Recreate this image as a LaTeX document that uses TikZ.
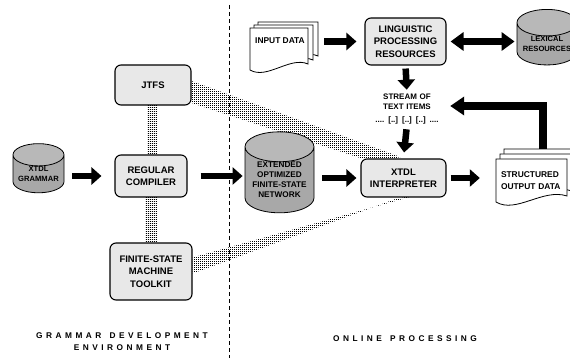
\documentclass[tikz,border=0pt]{standalone}
\usepackage{fontspec}
\setmainfont{Liberation Sans}
\usetikzlibrary{arrows.meta,shapes.geometric,patterns,calc,backgrounds}
\definecolor{boxgray}{HTML}{E8E8E8}
\definecolor{drumgray}{HTML}{A8A8A8}
\definecolor{drumtop}{HTML}{B8B8B8}
\pgfdeclarepatternformonly{finedots}{\pgfpointorigin}{\pgfqpoint{2pt}{2pt}}{\pgfqpoint{2pt}{2pt}}
  {\pgfpathrectangle{\pgfpointorigin}{\pgfqpoint{1.4pt}{1.4pt}}\pgfusepath{fill}}
\begin{document}
\begin{tikzpicture}[x=1pt,y=-1pt,
  box/.style={draw,line width=1.1pt,rounded corners=6pt,fill=boxgray,align=center,
    font=\fontsize{9.5}{12.5}\selectfont\bfseries,inner sep=0pt},
  drum/.style={shape=cylinder,shape border rotate=90,aspect=0.55,draw,line width=0.8pt,
    cylinder uses custom fill,cylinder body fill=drumgray,cylinder end fill=drumtop,
    align=center,inner sep=0pt},
  sheet/.style={draw,line width=0.8pt,fill=white},
  fatarrow/.style={line width=6.5pt,-{Triangle[width=17pt,length=10pt]}},
  band/.style={pattern=finedots,pattern color=black},
  part/.style={font=\fontsize{8.3}{12}\selectfont\bfseries\addfontfeature{LetterSpace=42},align=center}]
\useasboundingbox (0,0) rectangle (570,358);

% divider
\draw[line width=0.8pt,dash pattern=on 4pt off 3pt] (229,5) -- (229,358);

% stacked pages
\draw[sheet] (258,22) -- (318,22) -- (318,56) .. controls (300,48) and (275,72) .. (258,62) -- cycle;
\draw[sheet] (254,25) -- (313,25) -- (313,60) .. controls (295,52) and (271,76) .. (254,66) -- cycle;
\draw[sheet] (250,28) -- (308,28) -- (308,64) .. controls (290,56) and (267,80) .. (250,70) -- cycle;
\draw[sheet] (504,149) -- (576,149) -- (576,186) .. controls (552,178) and (524,204) .. (504,192) -- cycle;
\draw[sheet] (500,154) -- (572,154) -- (572,191) .. controls (548,183) and (520,209) .. (500,197) -- cycle;
\draw[sheet] (496,159) -- (567,159) -- (567,196) .. controls (543,188) and (516,214) .. (496,202) -- cycle;

% grammar side
\node[box,minimum width=76pt,minimum height=40pt] (jtfs) at (153,85) {JTFS};
\node[box,minimum width=72pt,minimum height=42pt] (comp) at (151,176) {REGULAR\\COMPILER};
\node[box,minimum width=82pt,minimum height=57pt] (fsm) at (151,271.5) {FINITE-STATE\\MACHINE\\TOOLKIT};
\node[drum,minimum width=51pt,minimum height=46pt,font=\fontsize{7.6}{10}\selectfont\bfseries] (gram) at (38.5,174) {XTDL\\GRAMMAR};

% online side
\node[drum,minimum width=69pt,minimum height=65pt,font=\fontsize{8.2}{10}\selectfont\bfseries] (net) at (279.5,180) {EXTENDED\\OPTIMIZED\\FINITE-STATE\\NETWORK};
\node[box,minimum width=85pt,minimum height=38pt] (interp) at (403.5,178) {XTDL\\INTERPRETER};
\node[box,minimum width=81pt,minimum height=47pt] (lpr) at (405.5,41.5) {LINGUISTIC\\PROCESSING\\RESOURCES};
\node[drum,minimum width=60pt,minimum height=50pt,font=\fontsize{7.6}{10}\selectfont\bfseries] (lex) at (547,44) {LEXICAL\\RESOURCES};
\node[font=\fontsize{8}{10}\selectfont\bfseries,align=center,text width=86pt,inner sep=0pt] (stream) at (407,109)
  {STREAM OF\\TEXT ITEMS\\[3pt].... [..] [..] [..] ....};
\node[font=\fontsize{8.4}{11}\selectfont\bfseries,inner sep=0pt] (indata) at (280,41) {INPUT DATA};
\node[font=\fontsize{8.4}{11.5}\selectfont\bfseries,align=left,text width=61pt,inner xsep=5pt,inner ysep=0pt,
  minimum height=43pt] (out) at (531.5,180.5) {STRUCTURED\\OUTPUT DATA};

% dotted links
\begin{scope}[on background layer]
\fill[band] ($(jtfs.south)+(-6,0)$) rectangle ($(comp.north)+(6,0)$);
\fill[band] ($(comp.south)+(-6,0)$) rectangle ($(fsm.north)+(6,0)$);
\fill[band] ($(jtfs.east)+(0,-4)$) -- ($(jtfs.east)+(0,18)$) -- ($(interp.center)+(-28,-15)$) -- ($(interp.center)+(-3,-21)$) -- cycle;
\fill[band] ($(fsm.east)+(0,-14)$) -- ($(fsm.east)+(0,2)$) -- ($(interp.center)+(-8,21)$) -- ($(interp.center)+(17,16)$) -- cycle;
\end{scope}

% arrows
\draw[fatarrow,shorten <=8pt,shorten >=13pt] (gram.east |- comp) -- (comp.west);
\draw[fatarrow,shorten <=13pt,shorten >=2pt] (comp.east) -- (net.west |- comp);
\draw[fatarrow,shorten <=8pt,shorten >=4pt] (net.east |- interp) -- (interp.west);
\draw[fatarrow,shorten <=4pt,shorten >=16pt] (interp.east) -- (out.west |- interp);
\draw[fatarrow,shorten <=19pt,shorten >=8pt] (indata.east |- lpr) -- (lpr.west);
\draw[line width=6.5pt,{Triangle[width=18pt,length=13pt]}-{Triangle[width=18pt,length=13pt]},shorten <=4pt,shorten >=2pt] (lpr.east) -- (lex.west |- lpr);
\draw[fatarrow,shorten <=3pt,shorten >=4pt] (lpr.south) -- (stream.north);
\draw[fatarrow,shorten <=5pt,shorten >=6pt] (stream.south) -- (interp.north);
\draw[line width=8pt,-{Triangle[width=18pt,length=14pt]}] ($(out.north)+(11.5,-10)$) |- ($(stream.east)+(0,-3)$);

% labels
\node[part] (gde) at (122,342) {GRAMMAR\hspace{1em}DEVELOPMENT\\ENVIRONMENT};
\node[part] (onl) at (405,339) {ONLINE\hspace{1em}PROCESSING};
\end{tikzpicture}
\end{document}
